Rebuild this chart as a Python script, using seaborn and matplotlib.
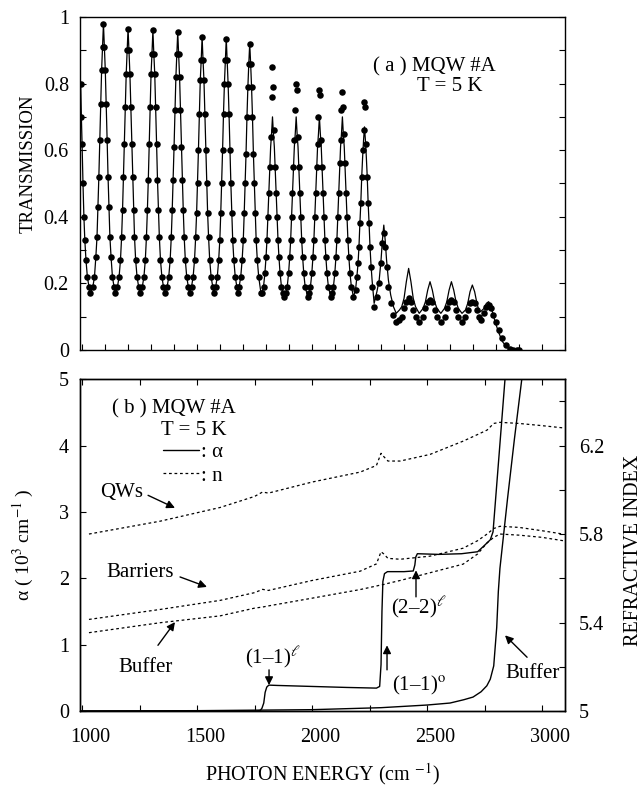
import matplotlib
matplotlib.use("Agg")
import matplotlib.pyplot as plt
import matplotlib.transforms as mtransforms
from matplotlib.lines import Line2D
from matplotlib.ticker import MultipleLocator, FixedLocator, FuncFormatter
import seaborn as sns

# ---------- (a) transmission: fit (line) and measured (dots)
trans_x = [994, 997, 1000, 1004, 1008, 1012, 1017, 1023, 1030, 1036,
           1047, 1054, 1060, 1065, 1069, 1073, 1077, 1081, 1085, 1089, 1093, 1097, 1101, 1105, 1109, 1113, 1117, 1121, 1126, 1132, 1139, 1145,
           1154, 1161, 1167, 1172, 1176, 1180, 1184, 1188, 1192, 1196, 1200, 1204, 1208, 1212, 1216, 1220, 1224, 1228, 1233, 1239, 1246, 1253,
           1262, 1269, 1275, 1280, 1284, 1288, 1292, 1296, 1300, 1304, 1308, 1312, 1316, 1320, 1324, 1328, 1332, 1336, 1341, 1347, 1354, 1361,
           1370, 1377, 1383, 1388, 1392, 1396, 1400, 1404, 1408, 1412, 1416, 1420, 1424, 1428, 1432, 1436, 1440, 1444, 1449, 1455, 1462, 1468,
           1476, 1483, 1489, 1494, 1498, 1502, 1506, 1510, 1514, 1518, 1522, 1526, 1530, 1534, 1538, 1542, 1546, 1550, 1555, 1561, 1568, 1573,
           1581, 1588, 1594, 1599, 1603, 1607, 1611, 1615, 1619, 1623, 1627, 1631, 1635, 1639, 1643, 1647, 1651, 1655, 1660, 1666, 1673, 1677,
           1683, 1690, 1696, 1701, 1705, 1709, 1713, 1717, 1721, 1725, 1729, 1733, 1737, 1741, 1745, 1749, 1753, 1757, 1762, 1768, 1778,
           1782, 1789, 1795, 1800, 1804, 1808, 1812, 1816, 1820, 1824, 1828, 1832, 1836, 1840, 1844, 1848, 1852, 1856, 1861, 1867, 1874, 1879,
           1885, 1892, 1898, 1903, 1907, 1911, 1915, 1919, 1923, 1927, 1931, 1935, 1939, 1943, 1947, 1951, 1955, 1959, 1964, 1970, 1981,
           1986, 1993, 1999, 2004, 2008, 2012, 2016, 2020, 2024, 2028, 2032, 2036, 2040, 2044, 2048, 2052, 2056, 2060, 2065, 2071, 2081,
           2086, 2093, 2099, 2104, 2108, 2112, 2116, 2120, 2124, 2128, 2132, 2136, 2140, 2144, 2148, 2152, 2156, 2160, 2165, 2171, 2180,
           2189, 2195, 2200, 2204, 2208, 2212, 2216, 2220, 2224, 2228, 2232, 2236, 2240, 2244, 2248, 2252, 2256, 2261, 2270,
           2282, 2292, 2300, 2306, 2312, 2318, 2324, 2332, 2342, 2354, 2366,
           2380, 2390, 2400, 2410, 2420, 2430, 2440, 2450, 2466,
           2483, 2493, 2503, 2513, 2523, 2533, 2543, 2560,
           2576, 2586, 2596, 2606, 2616, 2626, 2636, 2652,
           2667, 2677, 2687, 2697, 2707, 2717, 2725, 2733,
           2748, 2758, 2768, 2778, 2788, 2798, 2813, 2828, 2845, 2861, 2875, 2890, 2900]

trans_fit = [0.80, 0.70, 0.62, 0.50, 0.40, 0.33, 0.27, 0.22, 0.19, 0.17,
             0.19, 0.22, 0.28, 0.34, 0.43, 0.52, 0.63, 0.74, 0.84, 0.91, 0.98, 0.91, 0.84, 0.74, 0.63, 0.52, 0.43, 0.34, 0.28, 0.22, 0.19, 0.17,
             0.19, 0.22, 0.27, 0.34, 0.42, 0.52, 0.62, 0.73, 0.83, 0.90, 0.965, 0.90, 0.83, 0.73, 0.62, 0.52, 0.42, 0.34, 0.27, 0.22, 0.19, 0.17,
             0.19, 0.22, 0.27, 0.34, 0.42, 0.51, 0.62, 0.73, 0.83, 0.89, 0.96, 0.89, 0.83, 0.73, 0.62, 0.51, 0.42, 0.34, 0.27, 0.22, 0.19, 0.17,
             0.19, 0.22, 0.27, 0.34, 0.42, 0.51, 0.61, 0.72, 0.82, 0.89, 0.955, 0.89, 0.82, 0.72, 0.61, 0.51, 0.42, 0.34, 0.27, 0.22, 0.19, 0.17,
             0.19, 0.22, 0.27, 0.34, 0.41, 0.50, 0.60, 0.71, 0.81, 0.87, 0.94, 0.87, 0.81, 0.71, 0.60, 0.50, 0.41, 0.34, 0.27, 0.22, 0.19, 0.17,
             0.19, 0.22, 0.27, 0.33, 0.41, 0.50, 0.60, 0.71, 0.80, 0.87, 0.935, 0.87, 0.80, 0.71, 0.60, 0.50, 0.41, 0.33, 0.27, 0.22, 0.19, 0.17,
             0.19, 0.22, 0.27, 0.33, 0.41, 0.50, 0.59, 0.70, 0.79, 0.86, 0.92, 0.86, 0.79, 0.70, 0.59, 0.50, 0.41, 0.33, 0.27, 0.22, 0.17,
             0.17, 0.19, 0.23, 0.28, 0.33, 0.40, 0.47, 0.54, 0.61, 0.65, 0.70, 0.65, 0.61, 0.54, 0.47, 0.40, 0.33, 0.28, 0.23, 0.19, 0.17, 0.16,
             0.17, 0.19, 0.23, 0.28, 0.33, 0.40, 0.47, 0.54, 0.61, 0.65, 0.70, 0.65, 0.61, 0.54, 0.47, 0.40, 0.33, 0.28, 0.23, 0.19, 0.16,
             0.17, 0.19, 0.23, 0.28, 0.33, 0.40, 0.47, 0.54, 0.61, 0.65, 0.70, 0.65, 0.61, 0.54, 0.47, 0.40, 0.33, 0.28, 0.23, 0.19, 0.16,
             0.17, 0.19, 0.23, 0.28, 0.33, 0.40, 0.47, 0.54, 0.61, 0.65, 0.70, 0.65, 0.61, 0.54, 0.47, 0.40, 0.33, 0.28, 0.23, 0.19, 0.16,
             0.18, 0.22, 0.26, 0.31, 0.38, 0.44, 0.52, 0.58, 0.63, 0.67, 0.63, 0.58, 0.52, 0.44, 0.38, 0.31, 0.26, 0.21, 0.14,
             0.175, 0.21, 0.27, 0.33, 0.375, 0.33, 0.27, 0.21, 0.165, 0.13, 0.11,
             0.12, 0.13, 0.155, 0.205, 0.245, 0.205, 0.155, 0.13, 0.11,
             0.125, 0.145, 0.18, 0.205, 0.18, 0.145, 0.125, 0.11,
             0.125, 0.145, 0.18, 0.205, 0.18, 0.145, 0.125, 0.11,
             0.12, 0.14, 0.175, 0.195, 0.175, 0.14, 0.12, 0.115,
             0.125, 0.14, 0.145, 0.13, 0.105, 0.08, 0.05, 0.025, 0.01, 0.0, 0.0, 0.0, 0.0]

trans_meas = [0.80, 0.70, 0.62, 0.50, 0.40, 0.33, 0.27, 0.22, 0.19, 0.17,
              0.19, 0.22, 0.28, 0.34, 0.43, 0.52, 0.63, 0.74, 0.84, 0.91, 0.98, 0.91, 0.84, 0.74, 0.63, 0.52, 0.43, 0.34, 0.28, 0.22, 0.19, 0.17,
              0.19, 0.22, 0.27, 0.34, 0.42, 0.52, 0.62, 0.73, 0.83, 0.90, 0.965, 0.90, 0.83, 0.73, 0.62, 0.52, 0.42, 0.34, 0.27, 0.22, 0.19, 0.17,
              0.19, 0.22, 0.27, 0.34, 0.42, 0.51, 0.62, 0.73, 0.83, 0.89, 0.96, 0.89, 0.83, 0.73, 0.62, 0.51, 0.42, 0.34, 0.27, 0.22, 0.19, 0.17,
              0.19, 0.22, 0.27, 0.34, 0.42, 0.51, 0.61, 0.72, 0.82, 0.89, 0.955, 0.89, 0.82, 0.72, 0.61, 0.51, 0.42, 0.34, 0.27, 0.22, 0.19, 0.17,
              0.19, 0.22, 0.27, 0.34, 0.41, 0.50, 0.60, 0.71, 0.81, 0.87, 0.94, 0.87, 0.81, 0.71, 0.60, 0.50, 0.41, 0.34, 0.27, 0.22, 0.19, 0.17,
              0.19, 0.22, 0.27, 0.33, 0.41, 0.50, 0.60, 0.71, 0.80, 0.87, 0.935, 0.87, 0.80, 0.71, 0.60, 0.50, 0.41, 0.33, 0.27, 0.22, 0.19, 0.17,
              0.19, 0.22, 0.27, 0.33, 0.41, 0.50, 0.59, 0.70, 0.79, 0.86, 0.92, 0.86, 0.79, 0.70, 0.59, 0.50, 0.41, 0.33, 0.27, 0.22, 0.17,
              0.17, 0.19, 0.23, 0.28, 0.33, 0.40, 0.47, 0.55, 0.64, 0.76, 0.85, 0.79, 0.66, 0.55, 0.47, 0.40, 0.33, 0.28, 0.23, 0.19, 0.17, 0.16,
              0.17, 0.19, 0.23, 0.28, 0.33, 0.40, 0.47, 0.55, 0.63, 0.72, 0.80, 0.78, 0.64, 0.55, 0.47, 0.40, 0.33, 0.28, 0.23, 0.19, 0.16,
              0.17, 0.19, 0.23, 0.28, 0.33, 0.40, 0.47, 0.55, 0.62, 0.70, 0.78, 0.765, 0.63, 0.55, 0.47, 0.40, 0.33, 0.28, 0.23, 0.19, 0.16,
              0.17, 0.19, 0.23, 0.28, 0.33, 0.40, 0.47, 0.56, 0.63, 0.72, 0.775, 0.73, 0.65, 0.56, 0.47, 0.40, 0.33, 0.28, 0.23, 0.19, 0.16,
              0.18, 0.22, 0.26, 0.31, 0.38, 0.44, 0.52, 0.60, 0.66, 0.745, 0.73, 0.62, 0.52, 0.44, 0.38, 0.31, 0.25, 0.19, 0.13,
              0.16, 0.20, 0.26, 0.32, 0.35, 0.31, 0.25, 0.19, 0.14, 0.105, 0.085,
              0.09, 0.10, 0.125, 0.145, 0.155, 0.145, 0.12, 0.10, 0.085,
              0.10, 0.125, 0.145, 0.15, 0.145, 0.12, 0.10, 0.085,
              0.10, 0.125, 0.145, 0.15, 0.145, 0.12, 0.10, 0.085,
              0.10, 0.12, 0.14, 0.145, 0.14, 0.12, 0.10, 0.09,
              0.11, 0.13, 0.135, 0.125, 0.105, 0.085, 0.06, 0.035, 0.015, 0.003, 0.0, 0.0, 0.0]

assert len(trans_x) == len(trans_fit) == len(trans_meas)

# ---------- (b) absorption coefficient (10^3 cm^-1)
alpha_mqw_x = [991, 1760, 1775, 1782, 1790, 1796, 1803, 1812, 1850, 2000, 2150, 2280,
               2294, 2300, 2304, 2308, 2315, 2328, 2400, 2440, 2447, 2451, 2458, 2550,
               2650, 2720, 2745, 2775, 2787, 2839, 2846]
alpha_mqw = [0.0, 0.0, 0.01, 0.04, 0.12, 0.28, 0.36, 0.39, 0.385, 0.37, 0.355, 0.345,
             0.37, 0.7, 1.5, 1.95, 2.07, 2.10, 2.10, 2.11, 2.2, 2.32, 2.37, 2.36,
             2.37, 2.40, 2.48, 2.58, 2.70, 5.0, 5.3]

alpha_buf_x = [991, 1500, 2000, 2300, 2500, 2600, 2660, 2700, 2735, 2760, 2775, 2790,
               2803, 2810, 2817, 2850, 2880, 2912, 2920]
alpha_buf = [0.0, 0.005, 0.02, 0.05, 0.09, 0.12, 0.17, 0.21, 0.29, 0.38, 0.48, 0.68,
             1.26, 1.8, 2.15, 3.2, 4.1, 5.0, 5.3]

# ---------- (b) refractive index
n_x = [1030, 1339, 1600, 1750, 1785, 1810, 2000, 2209, 2280, 2300, 2312, 2330,
       2383, 2513, 2657, 2720, 2761, 2790, 2817, 2900, 3000, 3091]
n_qws = [5.80, 5.858, 5.92, 5.97, 5.99, 5.985, 6.035, 6.08, 6.11, 6.165, 6.15, 6.13,
         6.13, 6.16, 6.22, 6.25, 6.27, 6.30, 6.305, 6.30, 6.29, 6.28]
n_barriers = [5.414, 5.459, 5.50, 5.535, 5.55, 5.545, 5.59, 5.632, 5.665, 5.72, 5.71, 5.69,
              5.686, 5.70, 5.736, 5.77, 5.80, 5.825, 5.835, 5.83, 5.815, 5.80]
n_buffer = [5.354, 5.399, 5.43, 5.465, 5.47, 5.475, 5.51, 5.549, 5.565, 5.57, 5.572, 5.577,
            5.59, 5.625, 5.664, 5.71, 5.76, 5.785, 5.80, 5.795, 5.785, 5.77]

x_ticks = [1000, 1500, 2000, 2500, 3000]
n_ticks = [5.0, 5.4, 5.8, 6.2]

# ---------- style
sns.set_style("ticks")
plt.rcParams["font.family"] = ["Liberation Serif", "DejaVu Serif"]
plt.rcParams["mathtext.fontset"] = "stix"
for key in ["axes.edgecolor", "text.color", "axes.labelcolor", "xtick.color", "ytick.color"]:
    plt.rcParams[key] = "black"
plt.rcParams["axes.linewidth"] = 1.0

dash = (0, (2.2, 2.2))
fig = plt.figure(figsize=(6.42, 7.90), dpi=100)
ax1 = fig.add_axes([0.1246, 0.557, 0.7555, 0.4215])
ax2 = fig.add_axes([0.1246, 0.100, 0.7555, 0.420])

# ---------- panel (a)
sns.lineplot(x=trans_x, y=trans_fit, ax=ax1, color="black", lw=0.9,
             estimator=None, sort=False)
sns.scatterplot(x=trans_x, y=trans_meas, ax=ax1, color="black", s=22,
                linewidth=0, zorder=3, legend=False)
ax1.set_xlim(991, 3100)
ax1.set_ylim(0, 1)
ax1.xaxis.set_major_locator(MultipleLocator(100))
ax1.yaxis.set_major_locator(MultipleLocator(0.2))
ax1.yaxis.set_minor_locator(MultipleLocator(0.1))
ax1.yaxis.set_major_formatter(FuncFormatter(lambda v, _: f"{v:g}"))
ax1.tick_params(which="both", direction="in", right=True, top=False,
                labelbottom=False, labelsize=14.5, length=4, width=0.8, pad=8)
ax1.set_ylabel("TRANSMISSION", fontsize=13.5)
ax1.yaxis.set_label_coords(-0.09, 0.56)
ax1.text(2530, 0.85, "( a ) MQW #A", fontsize=15, ha="center", va="center")
ax1.text(2600, 0.79, "T = 5 K", fontsize=15, ha="center", va="center")

# ---------- panel (b)
axr = ax2.twinx()
sns.lineplot(x=alpha_mqw_x, y=alpha_mqw, ax=ax2, color="black", lw=1.0,
             estimator=None, sort=False)
sns.lineplot(x=alpha_buf_x, y=alpha_buf, ax=ax2, color="black", lw=1.0,
             estimator=None, sort=False)
for n_vals in [n_qws, n_barriers, n_buffer]:
    sns.lineplot(x=n_x, y=n_vals, ax=axr, color="black", lw=0.9, linestyle=dash,
                 estimator=None, sort=False)

ax2.set_xlim(991, 3100)
ax2.set_ylim(0, 5)
axr.set_ylim(5.0, 6.5)
ax2.xaxis.set_major_locator(FixedLocator(x_ticks))
ax2.xaxis.set_minor_locator(MultipleLocator(250))
ax2.yaxis.set_major_locator(MultipleLocator(1))
ax2.yaxis.set_major_formatter(FuncFormatter(lambda v, _: f"{v:g}"))
ax2.tick_params(which="both", direction="in", top=True, right=False,
                labelsize=14.5, length=4, width=0.8)
ax2.tick_params(axis="x", pad=12)
ax2.tick_params(axis="y", pad=8)
axr.yaxis.set_major_locator(FixedLocator(n_ticks))
axr.yaxis.set_minor_locator(MultipleLocator(0.2))
axr.yaxis.set_major_formatter(FuncFormatter(lambda v, _: f"{v:g}"))
axr.tick_params(which="both", direction="in", labelsize=14.5, length=4, width=0.8, pad=10)

# tick labels sit a little right of their ticks in the original
shift = mtransforms.ScaledTranslation(8 / 100, 0, fig.dpi_scale_trans)
for lab in ax2.get_xticklabels():
    lab.set_transform(lab.get_transform() + shift)

ax2.set_ylabel(r"α ( 10$^3$ cm$^{-1}$ )", fontsize=14)
ax2.yaxis.set_label_coords(-0.09, 0.5)
ax2.set_xlabel(r"PHOTON ENERGY (cm $^{-1}$)", fontsize=14.5, labelpad=10)
axr.set_ylabel("")
fig.text(634 / 642, 1 - 550 / 790, "REFRACTIVE INDEX", rotation=90,
         ha="center", va="center", fontsize=14.5)

ax2.text(1130, 4.56, "( b ) MQW #A", fontsize=15, ha="left", va="center")
ax2.text(1487, 4.22, "T = 5 K", fontsize=15, ha="center", va="center")
handles = [Line2D([], [], color="black", lw=1.0),
           Line2D([], [], color="black", lw=0.9, linestyle=dash)]
ax2.legend(handles, [": α", ": n"], loc="upper left", bbox_to_anchor=(0.171, 0.81),
           frameon=False, fontsize=15, handlelength=1.75, handletextpad=0.1,
           borderpad=0, borderaxespad=0, labelspacing=0.2)

arrow = dict(arrowstyle="-|>", color="black", lw=1.0, mutation_scale=12,
             shrinkA=0, shrinkB=0)
notes = [
    ("QWs", (1170, 3.30), (1287, 3.25), (1404, 3.06)),
    ("Barriers", (1252, 2.08), (1426, 2.02), (1543, 1.87)),
    ("Buffer", (1278, 0.66), (1330, 0.99), (1404, 1.34)),
    ("(1–1)$^{\\ell}$", (1830, 0.80), (1813, 0.62), (1813, 0.39)),
    ("(1–1)$^{\\mathrm{o}}$", (2465, 0.39), (2326, 0.62), (2326, 0.99)),
    ("(2–2)$^{\\ell}$", (2465, 1.55), (2452, 1.72), (2452, 2.12)),
    ("Buffer", (2961, 0.57), (2935, 0.81), (2839, 1.14)),
]
for label, pos, tail, head in notes:
    ax2.text(pos[0], pos[1], label, fontsize=15, ha="center", va="center")
    ax2.annotate("", xy=head, xytext=tail, arrowprops=arrow)

fig.savefig("out.png", dpi=100)
